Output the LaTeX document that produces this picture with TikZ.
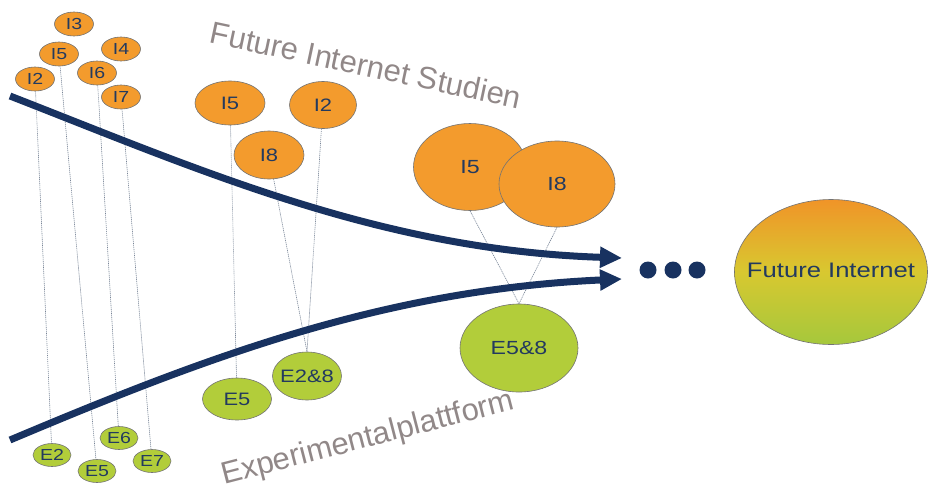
\documentclass[tikz,border=0pt]{standalone}
\usepackage{fontspec}
\setmainfont{Liberation Sans}
\newfontfamily\labelfont{Liberation Sans}[FakeStretch=1.22]
\usetikzlibrary{arrows.meta,shapes.geometric,backgrounds}

\definecolor{navy}{RGB}{24,50,96}
\definecolor{ink}{RGB}{35,58,95}
\definecolor{orangefill}{RGB}{243,155,45}
\definecolor{greenfill}{RGB}{178,205,58}
\definecolor{linkgray}{RGB}{120,132,150}
\definecolor{titlegray}{RGB}{145,136,136}
\definecolor{fitop}{RGB}{240,148,40}
\definecolor{fimid}{RGB}{216,200,48}
\definecolor{fibot}{RGB}{165,200,60}

\tikzset{
  bubble/.style={ellipse, draw=black!55, line width=0.6pt, text=ink,
                 inner xsep=-6pt, inner ysep=0pt},
  inode/.style={bubble, fill=orangefill},
  enode/.style={bubble, fill=greenfill},
  smallsz/.style={minimum width=39pt, minimum height=24pt, font=\labelfont\fontsize{16}{18}\selectfont},
  midsz/.style={font=\labelfont\fontsize{18}{20}\selectfont},
  bigsz/.style={font=\labelfont\fontsize{19}{21}\selectfont},
  link/.style={draw=linkgray, line width=0.6pt, dash pattern=on 1.2pt off 0.8pt},
  flow/.style={draw=navy, line width=7pt, -{Triangle[length=22pt,width=20pt]}},
  dot/.style={circle, fill=navy, minimum size=17pt, inner sep=0pt},
  title/.style={text=titlegray, font=\fontsize{31}{34}\selectfont}
}

\begin{document}
\begin{tikzpicture}[x=1pt, y=-1pt]
\path[use as bounding box] (0,0) rectangle (931,490);

% first studies and platforms (left)
\node[inode,smallsz] (a3) at (74,24) {I3};
\node[inode,smallsz] (a5) at (59,54) {I5};
\node[inode,smallsz] (a4) at (121,49) {I4};
\node[inode,smallsz] (a6) at (97,73) {I6};
\node[inode,smallsz] (a2) at (35,79) {I2};
\node[inode,smallsz] (a7) at (121,97) {I7};
\node[enode,smallsz,minimum width=38pt,minimum height=23pt] (b2) at (52,455) {E2};
\node[enode,smallsz,minimum width=38pt,minimum height=23pt] (b5) at (97,471) {E5};
\node[enode,smallsz,minimum width=38pt,minimum height=23pt] (b6) at (119,438) {E6};
\node[enode,smallsz,minimum width=38pt,minimum height=23pt] (b7) at (152,461) {E7};

% second stage (middle)
\node[inode,midsz,minimum width=70pt,minimum height=44pt] (c5) at (230,103) {I5};
\node[inode,midsz,minimum width=67pt,minimum height=47pt] (c2) at (323,105) {I2};
\node[inode,midsz,minimum width=70pt,minimum height=48pt] (c8) at (269,155) {I8};
\node[enode,midsz,minimum width=69pt,minimum height=42pt] (d5) at (237,399) {E5};
\node[enode,midsz,minimum width=69pt,minimum height=48pt] (d28) at (307,376) {E2\&8};

% third stage (right)
\node[inode,bigsz,minimum width=113pt,minimum height=87pt] (r5) at (470,167) {I5};
\node[inode,bigsz,minimum width=116pt,minimum height=86pt] (r8) at (557,184) {I8};
\node[enode,bigsz,minimum width=118pt,minimum height=88pt] (s58) at (519,348) {E5\&8};

% goal
\node[bubble, minimum width=193pt, minimum height=145pt, inner xsep=-16pt,
      top color=fitop, bottom color=fibot, middle color=fimid,
      font=\labelfont\fontsize{21}{24}\selectfont] (fi) at (831,272) {\raisebox{4pt}{Future Internet}};

\node[dot] (p1) at (648,270) {};
\node[dot] (p2) at (673,270) {};
\node[dot] (p3) at (697,270) {};

% start and end points of the two streams
\coordinate (sTop) at (10,96);
\coordinate (eTop) at (622,258);
\coordinate (sBot) at (10,440);
\coordinate (eBot) at (622,279);

\begin{scope}[on background layer]
  % which study feeds which platform
  \draw[link] (a2) -- (b2);
  \draw[link] (a5) -- (b5);
  \draw[link] (a6) -- (b6);
  \draw[link] (a7) -- (b7);
  \draw[link] (c5) -- (d5);
  \draw[link] (c8) -- (d28.north);
  \draw[link] (c2) -- (d28.north);
  \draw[link] (r5.south) -- (s58.north);
  \draw[link] (r8.south) -- (s58.north);
  % the two converging streams
  \draw[flow] (sTop) .. controls (200,170) and (380,250) .. (eTop);
  \draw[flow] (sBot) .. controls (200,360) and (380,290) .. (eBot);
\end{scope}

\node[title, rotate=-12] (tstud) at (366,65) {Future Internet Studien};
\node[title, rotate=14.5] (texp) at (368,439) {Experimentalplattform};
\end{tikzpicture}
\end{document}
